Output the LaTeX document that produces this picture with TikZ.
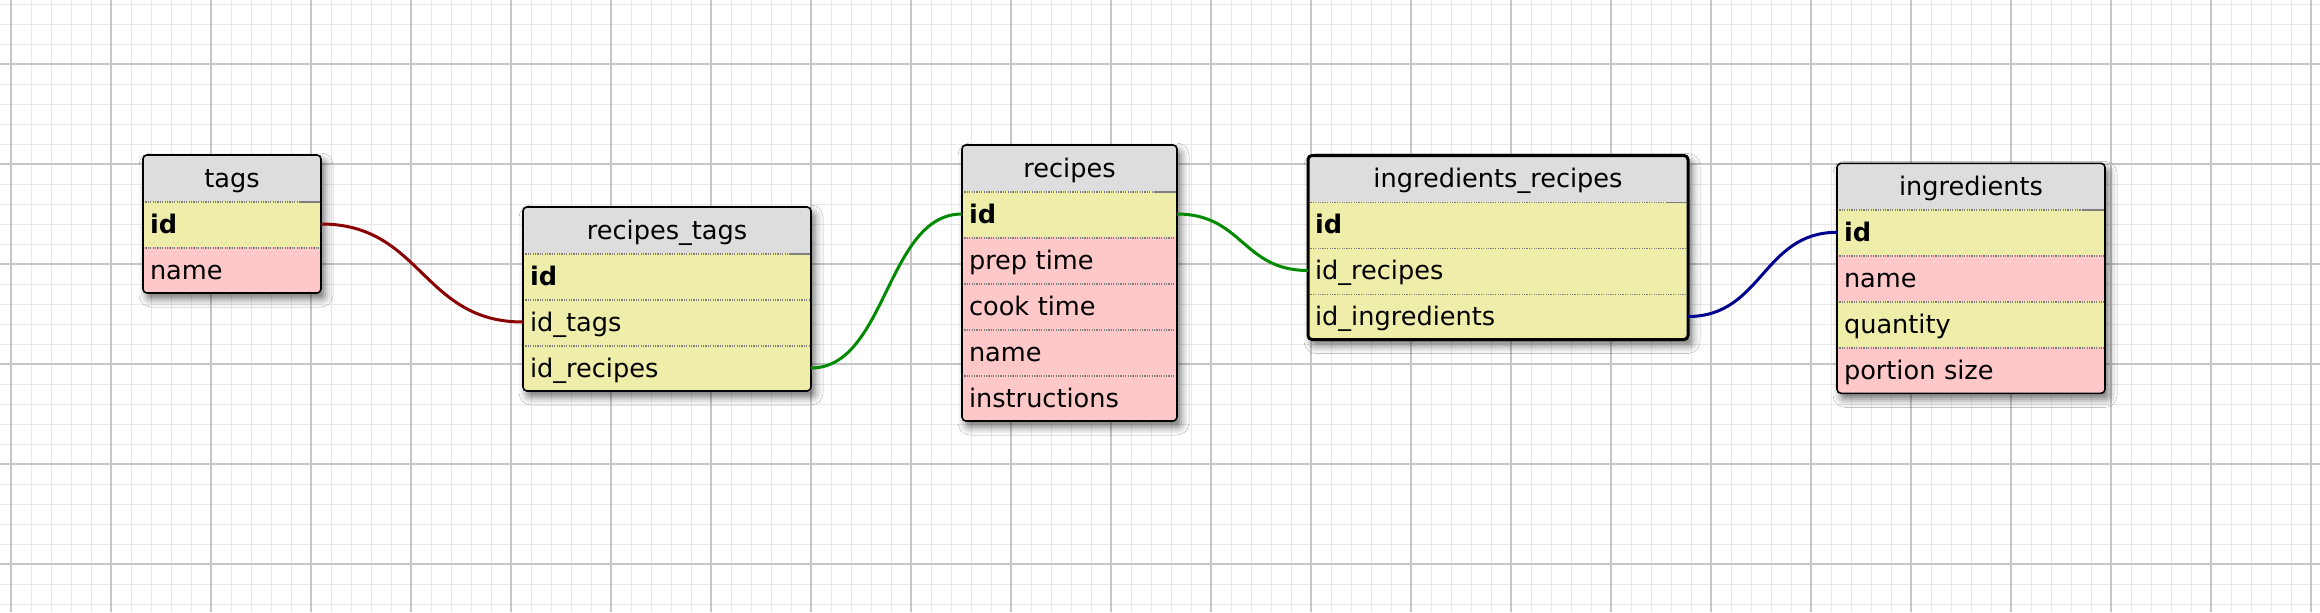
\documentclass[tikz,border=0pt]{standalone}
\usepackage{fontspec}
\setmainfont{DejaVu Sans}
\usetikzlibrary{positioning,fit,backgrounds,shadows.blur}

\definecolor{hdgray}{HTML}{DDDDDD}
\definecolor{rowyel}{HTML}{EEEEAA}
\definecolor{rowpink}{HTML}{FFC8C8}
\definecolor{gridminor}{HTML}{E8E8E8}
\definecolor{gridmajor}{HTML}{C6C6C6}
\definecolor{sepgray}{HTML}{7E7E7E}
\definecolor{relred}{HTML}{8B0000}
\definecolor{relgreen}{HTML}{008A00}
\definecolor{relblue}{HTML}{00008F}

\newcommand\tblfont{\fontsize{12.8}{15}\selectfont}

\tikzset{
    tbl/.style={every node/.append style={text width=#1}},
    cell/.style={rectangle, minimum height=23pt, inner xsep=3.5pt, inner ysep=0pt, outer sep=0pt,
        text height=11pt, text depth=1.8pt, align=left},
    sepline/.style={draw=sepgray, line width=0.8pt, dash pattern=on 0.6pt off 0.6pt},
    hd/.style={cell, fill=hdgray, align=center},
    yrow/.style={cell, fill=rowyel, path picture={
        \draw[sepline] ([yshift=-0.4pt]path picture bounding box.north west)
            -- ([yshift=-0.4pt]path picture bounding box.north east);}},
    prow/.style={yrow, fill=rowpink},
    idrow/.style={cell, fill=rowyel, font=\tblfont\bfseries, path picture={
        \draw[sepline] ([yshift=-0.4pt]path picture bounding box.north west)
            -- ([yshift=-0.4pt]path picture bounding box.north east);
        \draw[sepgray, line width=0.8pt] ([xshift=-11pt,yshift=-0.4pt]path picture bounding box.north east)
            -- ([yshift=-0.4pt]path picture bounding box.north east);}},
    frame/.style={draw, line width=0.8pt, rounded corners=2pt, inner sep=0pt},
    shade/.style={fill=white, rounded corners=2pt, inner sep=0pt,
        blur shadow={shadow xshift=2pt, shadow yshift=-3pt, shadow blur radius=4pt, shadow opacity=55}},
    rel/.style={line width=1.5pt, out=0, in=180}
}

\begin{document}
\begin{tikzpicture}[x=0.5pt, y=-0.5pt, font=\tblfont]
\useasboundingbox (0,0) rectangle (2320,612);

% grid paper
\begin{scope}[on background layer]
    \fill[white] (0,0) rectangle (2320,612);
    \foreach \gx in {11,31,...,2311} \draw[gridminor, line width=0.5pt] (\gx,0) -- (\gx,612);
    \foreach \gy in {4,24,...,604} \draw[gridminor, line width=0.5pt] (0,\gy) -- (2320,\gy);
    \foreach \gx in {11,111,...,2311} \draw[gridmajor, line width=0.7pt] (\gx,0) -- (\gx,612);
    \foreach \gy in {64,164,...,564} \draw[gridmajor, line width=0.7pt] (0,\gy) -- (2320,\gy);
\end{scope}

% tags
\begin{scope}[tbl=82pt]
    \node[hd, anchor=north west] (tags) at (143,155) {tags};
    \node[idrow, below=0pt of tags] (tags-id) {id};
    \node[prow, below=0pt of tags-id] (tags-name) {name};
\end{scope}

% recipes_tags
\begin{scope}[tbl=137pt]
    \node[hd, anchor=north west] (rt) at (523,207) {recipes\_tags};
    \node[idrow, below=0pt of rt] (rt-id) {id};
    \node[yrow, below=0pt of rt-id] (rt-tags) {id\_tags};
    \node[yrow, below=0pt of rt-tags] (rt-recipes) {id\_recipes};
\end{scope}

% recipes
\begin{scope}[tbl=100.5pt]
    \node[hd, anchor=north west] (recipes) at (962,145) {recipes};
    \node[idrow, below=0pt of recipes] (recipes-id) {id};
    \node[prow, below=0pt of recipes-id] (recipes-prep) {prep time};
    \node[prow, below=0pt of recipes-prep] (recipes-cook) {cook time};
    \node[prow, below=0pt of recipes-cook] (recipes-name) {name};
    \node[prow, below=0pt of recipes-name] (recipes-instr) {instructions};
\end{scope}

% ingredients_recipes
\begin{scope}[tbl=183pt]
    \node[hd, anchor=north west] (ir) at (1308,155.5) {ingredients\_recipes};
    \node[idrow, below=0pt of ir] (ir-id) {id};
    \node[yrow, below=0pt of ir-id] (ir-recipes) {id\_recipes};
    \node[yrow, below=0pt of ir-recipes] (ir-ingredients) {id\_ingredients};
\end{scope}

% ingredients
\begin{scope}[tbl=127pt]
    \node[hd, anchor=north west] (ing) at (1837,163.3) {ingredients};
    \node[idrow, below=0pt of ing] (ing-id) {id};
    \node[prow, below=0pt of ing-id] (ing-name) {name};
    \node[yrow, below=0pt of ing-name] (ing-qty) {quantity};
    \node[prow, below=0pt of ing-qty] (ing-portion) {portion size};
\end{scope}

% shadows and frames
\begin{scope}[on background layer]
    \node[shade, fit=(tags)(tags-name)] (tags-sh) {};
    \node[shade, fit=(rt)(rt-recipes)] (rt-sh) {};
    \node[shade, fit=(recipes)(recipes-instr)] (recipes-sh) {};
    \node[shade, fit=(ir)(ir-ingredients)] (ir-sh) {};
    \node[shade, fit=(ing)(ing-portion)] (ing-sh) {};
\end{scope}
\node[frame, fit=(tags)(tags-name)] (tags-box) {};
\node[frame, fit=(rt)(rt-recipes)] (rt-box) {};
\node[frame, fit=(recipes)(recipes-instr)] (recipes-box) {};
\node[frame, line width=1.5pt, fit=(ir)(ir-ingredients)] (ir-box) {};
\node[frame, fit=(ing)(ing-portion)] (ing-box) {};

% relations
\path (tags-id.east) edge[rel, relred, distance=50.5pt] (rt-tags.west);
\path (rt-recipes.east) edge[rel, relgreen, distance=37.75pt] (recipes-id.west);
\path (recipes-id.east) edge[rel, relgreen, distance=32.75pt] (ir-recipes.west);
\path (ir-ingredients.east) edge[rel, relblue, distance=37.25pt] (ing-id.west);

\end{tikzpicture}
\end{document}
